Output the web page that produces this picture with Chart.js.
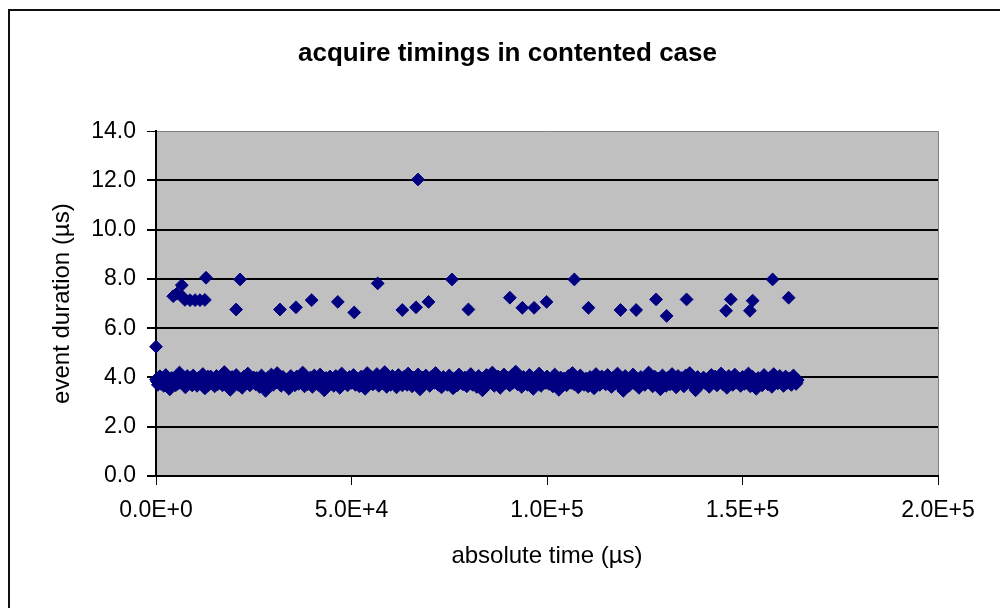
<!DOCTYPE html>
<html lang="en">
<head>
    <meta charset="UTF-8">
    <title>acquire timings in contented case</title>
    <script src="https://cdn.jsdelivr.net/npm/chart.js"></script>
    <style>
        body {
            margin: 0;
            background-color: #fff;
        }
        canvas {
            display: block;
            background-color: #fff;
        }
    </style>
</head>
<body>
    <canvas id="timingChart" width="1000" height="608"></canvas>
    <script>
        // main band of acquire events (absolute time in µs, duration in µs)
        const bandTimes = [
            0, 470, 980, 1510, 2000, 2490, 3010, 3520, 4000, 4480,
            5020, 5510, 6000, 6490, 7030, 7520, 7990, 8480, 9010, 9530,
            10010, 10490, 11020, 11500, 11980, 12510, 13030, 13500, 13990, 14520,
            15000, 15470, 15980, 16510, 17000, 17490, 18010, 18520, 19000, 19480,
            20020, 20510, 21000, 21490, 22030, 22520, 22990, 23480, 24010, 24530,
            25010, 25490, 26020, 26500, 26980, 27510, 28030, 28500, 28990, 29520,
            30000, 30470, 30980, 31510, 32000, 32490, 33010, 33520, 34000, 34480,
            35020, 35510, 36000, 36490, 37030, 37520, 37990, 38480, 39010, 39530,
            40010, 40490, 41020, 41500, 41980, 42510, 43030, 43500, 43990, 44520,
            45000, 45470, 45980, 46510, 47000, 47490, 48010, 48520, 49000, 49480,
            50020, 50510, 51000, 51490, 52030, 52520, 52990, 53480, 54010, 54530,
            55010, 55490, 56020, 56500, 56980, 57510, 58030, 58500, 58990, 59520,
            60000, 60470, 60980, 61510, 62000, 62490, 63010, 63520, 64000, 64480,
            65020, 65510, 66000, 66490, 67030, 67520, 67990, 68480, 69010, 69530,
            70010, 70490, 71020, 71500, 71980, 72510, 73030, 73500, 73990, 74520,
            75000, 75470, 75980, 76510, 77000, 77490, 78010, 78520, 79000, 79480,
            80020, 80510, 81000, 81490, 82030, 82520, 82990, 83480, 84010, 84530,
            85010, 85490, 86020, 86500, 86980, 87510, 88030, 88500, 88990, 89520,
            90000, 90470, 90980, 91510, 92000, 92490, 93010, 93520, 94000, 94480,
            95020, 95510, 96000, 96490, 97030, 97520, 97990, 98480, 99010, 99530,
            100010, 100490, 101020, 101500, 101980, 102510, 103030, 103500, 103990, 104520,
            105000, 105470, 105980, 106510, 107000, 107490, 108010, 108520, 109000, 109480,
            110020, 110510, 111000, 111490, 112030, 112520, 112990, 113480, 114010, 114530,
            115010, 115490, 116020, 116500, 116980, 117510, 118030, 118500, 118990, 119520,
            120000, 120470, 120980, 121510, 122000, 122490, 123010, 123520, 124000, 124480,
            125020, 125510, 126000, 126490, 127030, 127520, 127990, 128480, 129010, 129530,
            130010, 130490, 131020, 131500, 131980, 132510, 133030, 133500, 133990, 134520,
            135000, 135470, 135980, 136510, 137000, 137490, 138010, 138520, 139000, 139480,
            140020, 140510, 141000, 141490, 142030, 142520, 142990, 143480, 144010, 144530,
            145010, 145490, 146020, 146500, 146980, 147510, 148030, 148500, 148990, 149520,
            150000, 150470, 150980, 151510, 152000, 152490, 153010, 153520, 154000, 154480,
            155020, 155510, 156000, 156490, 157030, 157520, 157990, 158480, 159010, 159530,
            160010, 160490, 161020, 161500, 161980, 162510, 163030, 163500, 163700, 164100
        ];
        const bandDurations = [
            3.92, 3.70, 4.05, 3.80, 3.66, 4.10, 3.86, 3.52, 3.98, 3.74,
            3.68, 4.02, 4.20, 3.78, 3.90, 3.60, 4.06, 3.84, 3.72, 4.08,
            3.88, 3.66, 4.00, 3.76, 4.14, 3.56, 3.94, 3.70, 4.04, 3.82,
            3.64, 4.06, 3.78, 3.96, 3.68, 4.22, 3.74, 3.90, 3.50, 4.02,
            3.80, 4.10, 3.70, 3.92, 3.58, 4.04, 3.86, 4.16, 3.68, 3.96,
            4.00, 3.72, 3.88, 3.62, 4.08, 3.78, 3.46, 3.98, 3.84, 4.12,
            3.70, 3.94, 4.18, 3.80, 3.66, 4.02, 3.76, 3.92, 3.54, 4.06,
            3.86, 3.68, 4.04, 3.74, 3.96, 4.20, 3.64, 3.88, 3.78, 4.00,
            3.62, 4.08, 3.82, 3.70, 4.12, 3.90, 3.48, 3.98, 3.74, 4.04,
            3.94, 3.66, 4.06, 3.84, 3.58, 4.16, 3.76, 3.92, 3.68, 4.02,
            3.78, 4.10, 3.70, 3.96, 3.64, 4.04, 3.86, 3.54, 4.18, 3.80,
            4.02, 3.72, 3.90, 4.14, 3.66, 3.98, 3.76, 4.22, 3.62, 3.88,
            3.70, 4.06, 3.82, 3.60, 4.10, 3.94, 3.68, 4.04, 3.78, 4.16,
            3.90, 3.64, 4.00, 3.76, 4.12, 3.52, 3.96, 3.72, 4.08, 3.84,
            3.66, 4.04, 3.88, 4.18, 3.74, 3.94, 3.60, 4.02, 3.80, 3.70,
            4.08, 3.78, 3.56, 3.98, 3.68, 4.12, 3.86, 3.72, 4.00, 3.64,
            3.84, 4.14, 3.70, 3.92, 3.62, 4.06, 3.80, 3.48, 3.96, 4.10,
            3.74, 3.96, 4.20, 3.66, 3.88, 4.04, 3.58, 3.92, 4.12, 3.78,
            3.98, 3.68, 4.08, 3.82, 4.24, 3.72, 3.94, 3.62, 4.02, 3.86,
            3.70, 4.10, 3.78, 3.54, 4.00, 3.90, 4.16, 3.66, 3.96, 3.80,
            4.04, 3.74, 3.92, 3.64, 4.12, 3.84, 3.50, 4.00, 3.76, 3.94,
            3.68, 4.06, 3.86, 4.18, 3.72, 3.98, 3.60, 4.08, 3.82, 3.70,
            3.96, 3.64, 4.02, 3.78, 3.56, 4.14, 3.88, 3.70, 4.04, 3.84,
            3.72, 4.10, 3.90, 3.62, 4.00, 3.76, 4.16, 3.68, 3.94, 3.46,
            4.06, 3.80, 3.66, 3.98, 4.12, 3.74, 3.92, 3.58, 4.02, 3.86,
            3.70, 3.94, 4.20, 3.82, 3.64, 4.04, 3.76, 3.96, 3.52, 4.08,
            3.88, 3.66, 4.00, 3.72, 4.14, 3.90, 3.60, 4.06, 3.78, 3.98,
            3.64, 4.08, 3.84, 4.18, 3.70, 3.96, 3.48, 4.02, 3.86, 3.74,
            4.00, 3.76, 3.92, 3.62, 4.10, 3.82, 4.04, 3.68, 3.94, 4.16,
            3.72, 3.98, 3.58, 4.06, 3.86, 3.70, 4.12, 3.80, 3.96, 3.66,
            4.02, 3.74, 3.90, 4.16, 3.64, 4.04, 3.84, 3.54, 3.98, 3.78,
            3.68, 4.10, 3.86, 3.72, 4.00, 3.62, 4.14, 3.92, 3.76, 4.06,
            3.84, 3.66, 4.04, 3.78, 3.96, 3.70, 4.08, 3.82, 3.74, 3.90
        ];

        // the events in between, same band
        const bandTimesB = [
            240, 730, 1250, 1760, 2250, 2740, 3260, 3760, 4240, 4750,
            5260, 5750, 6230, 6740, 7270, 7760, 8240, 8740, 9260, 9730,
            10240, 10730, 11250, 11760, 12250, 12740, 13260, 13760, 14240, 14750,
            15260, 15750, 16230, 16740, 17270, 17760, 18240, 18740, 19260, 19730,
            20240, 20730, 21250, 21760, 22250, 22740, 23260, 23760, 24240, 24750,
            25260, 25750, 26230, 26740, 27270, 27760, 28240, 28740, 29260, 29730,
            30240, 30730, 31250, 31760, 32250, 32740, 33260, 33760, 34240, 34750,
            35260, 35750, 36230, 36740, 37270, 37760, 38240, 38740, 39260, 39730,
            40240, 40730, 41250, 41760, 42250, 42740, 43260, 43760, 44240, 44750,
            45260, 45750, 46230, 46740, 47270, 47760, 48240, 48740, 49260, 49730,
            50240, 50730, 51250, 51760, 52250, 52740, 53260, 53760, 54240, 54750,
            55260, 55750, 56230, 56740, 57270, 57760, 58240, 58740, 59260, 59730,
            60240, 60730, 61250, 61760, 62250, 62740, 63260, 63760, 64240, 64750,
            65260, 65750, 66230, 66740, 67270, 67760, 68240, 68740, 69260, 69730,
            70240, 70730, 71250, 71760, 72250, 72740, 73260, 73760, 74240, 74750,
            75260, 75750, 76230, 76740, 77270, 77760, 78240, 78740, 79260, 79730,
            80240, 80730, 81250, 81760, 82250, 82740, 83260, 83760, 84240, 84750,
            85260, 85750, 86230, 86740, 87270, 87760, 88240, 88740, 89260, 89730,
            90240, 90730, 91250, 91760, 92250, 92740, 93260, 93760, 94240, 94750,
            95260, 95750, 96230, 96740, 97270, 97760, 98240, 98740, 99260, 99730,
            100240, 100730, 101250, 101760, 102250, 102740, 103260, 103760, 104240, 104750,
            105260, 105750, 106230, 106740, 107270, 107760, 108240, 108740, 109260, 109730,
            110240, 110730, 111250, 111760, 112250, 112740, 113260, 113760, 114240, 114750,
            115260, 115750, 116230, 116740, 117270, 117760, 118240, 118740, 119260, 119730,
            120240, 120730, 121250, 121760, 122250, 122740, 123260, 123760, 124240, 124750,
            125260, 125750, 126230, 126740, 127270, 127760, 128240, 128740, 129260, 129730,
            130240, 130730, 131250, 131760, 132250, 132740, 133260, 133760, 134240, 134750,
            135260, 135750, 136230, 136740, 137270, 137760, 138240, 138740, 139260, 139730,
            140240, 140730, 141250, 141760, 142250, 142740, 143260, 143760, 144240, 144750,
            145260, 145750, 146230, 146740, 147270, 147760, 148240, 148740, 149260, 149730,
            150240, 150730, 151250, 151760, 152250, 152740, 153260, 153760, 154240, 154750,
            155260, 155750, 156230, 156740, 157270, 157760, 158240, 158740, 159260, 159730,
            160240, 160730, 161250, 161760, 162250, 162740, 163260, 163600, 163850, 164000
        ];
        const bandDurationsB = [
            3.84, 3.96, 3.74, 3.90, 3.80, 4.00, 3.70, 3.88, 3.94, 3.78,
            3.92, 3.76, 3.86, 4.02, 3.72, 3.90, 3.82, 3.98, 3.68, 3.86,
            3.78, 3.94, 3.84, 3.70, 3.92, 3.80, 4.04, 3.76, 3.88, 3.96,
            3.90, 3.72, 3.98, 3.82, 3.86, 3.74, 3.94, 3.80, 4.00, 3.70,
            3.76, 3.88, 3.96, 3.70, 3.84, 3.92, 3.78, 4.02, 3.82, 3.90,
            3.86, 3.98, 3.74, 3.90, 3.80, 3.94, 3.72, 3.84, 3.96, 3.78,
            3.92, 3.80, 3.86, 3.74, 4.00, 3.82, 3.90, 3.70, 3.88, 3.96,
            3.74, 3.90, 3.82, 3.96, 3.78, 3.88, 4.02, 3.72, 3.94, 3.84,
            3.88, 3.76, 3.94, 3.84, 3.70, 3.98, 3.80, 3.90, 3.86, 3.74,
            3.80, 3.96, 3.72, 3.88, 3.92, 3.78, 4.00, 3.84, 3.76, 3.90,
            3.94, 3.82, 3.88, 3.74, 3.98, 3.86, 3.70, 3.92, 3.80, 3.96,
            3.76, 3.90, 3.84, 3.98, 3.72, 3.88, 3.94, 3.78, 4.04, 3.82,
            3.90, 3.78, 3.96, 3.84, 3.76, 3.92, 3.82, 3.88, 3.70, 3.98,
            3.82, 3.94, 3.74, 3.90, 3.86, 3.80, 4.00, 3.76, 3.92, 3.88,
            3.96, 3.84, 3.78, 3.92, 3.70, 3.88, 3.82, 3.94, 3.86, 3.76,
            3.86, 3.72, 3.94, 3.80, 3.90, 3.78, 3.98, 3.84, 3.74, 3.92,
            3.78, 3.90, 3.84, 3.96, 3.76, 3.88, 3.92, 3.80, 4.02, 3.86,
            3.92, 3.80, 3.76, 3.88, 3.94, 3.82, 3.98, 3.74, 3.86, 3.90,
            3.84, 3.96, 3.78, 3.90, 3.80, 3.94, 3.72, 3.88, 3.82, 3.98,
            3.90, 3.76, 3.94, 3.84, 3.88, 3.74, 3.92, 3.82, 3.86, 3.78,
            3.80, 3.92, 3.86, 3.72, 3.96, 3.84, 3.90, 3.78, 3.94, 3.88,
            3.94, 3.82, 3.78, 3.90, 3.86, 3.80, 3.96, 3.74, 3.88, 3.92,
            3.82, 3.88, 3.94, 3.76, 3.90, 3.84, 3.78, 3.96, 3.80, 3.92,
            3.88, 3.74, 3.84, 3.96, 3.80, 3.92, 3.86, 3.90, 3.76, 4.00,
            3.76, 3.92, 3.88, 3.80, 3.84, 3.96, 3.82, 3.90, 3.74, 3.94,
            3.90, 3.84, 3.78, 3.92, 3.86, 3.80, 3.94, 3.82, 3.96, 3.76,
            3.80, 3.96, 3.84, 3.88, 3.76, 3.92, 3.86, 3.78, 3.90, 3.84,
            3.92, 3.78, 3.96, 3.82, 3.88, 3.80, 3.94, 3.86, 3.76, 3.90,
            3.84, 3.90, 3.80, 3.94, 3.78, 3.88, 3.82, 3.96, 3.86, 3.80,
            3.88, 3.82, 3.92, 3.76, 3.96, 3.84, 3.80, 3.90, 3.86, 3.94,
            3.78, 3.94, 3.86, 3.82, 3.90, 3.76, 3.92, 3.88, 3.84, 3.96,
            3.90, 3.80, 3.84, 3.94, 3.78, 3.92, 3.86, 3.82, 3.96, 3.88,
            3.84, 3.92, 3.80, 3.88, 3.94, 3.82, 3.90, 3.86, 3.80, 3.88
        ];

        // slow acquires above the band
        const outlierTimes = [
            0, 4400, 5300, 6600, 6800, 7400, 8700, 10000, 11250, 12500,
            12800, 20500, 21500, 31700, 35800, 39800, 46500, 50700, 56700, 63000,
            66500, 67000, 69700, 75700, 79900, 90500, 93700, 96700, 99900, 107000,
            110600, 118800, 122800, 127900, 130600, 135700, 145800, 147000, 151900, 152600,
            157700, 161800
        ];
        const outlierDurations = [
            5.25, 7.30, 7.40, 7.75, 7.28, 7.15, 7.14, 7.14, 7.14, 7.15,
            8.05, 6.76, 7.98, 6.76, 6.85, 7.14, 7.07, 6.64, 7.82, 6.74,
            6.85, 12.04, 7.07, 7.98, 6.76, 7.24, 6.83, 6.83, 7.07, 7.98,
            6.83, 6.74, 6.74, 7.17, 6.50, 7.17, 6.71, 7.17, 6.71, 7.12,
            7.98, 7.24
        ];

        const xTicks = [0, 50000, 100000, 150000, 200000];
        const yTicks = [0, 2, 4, 6, 8, 10, 12, 14];

        const FONT = "'Liberation Sans', Arial, sans-serif";

        function sciLabel(v) {
            if (v === 0) return '0.0E+0';
            const exp = Math.floor(Math.log10(v));
            return (v / Math.pow(10, exp)).toFixed(1) + 'E+' + exp;
        }

        const points = [];
        bandTimes.forEach((t, i) => points.push({ x: t, y: bandDurations[i] }));
        bandTimesB.forEach((t, i) => points.push({ x: t, y: bandDurationsB[i] }));
        outlierTimes.forEach((t, i) => points.push({ x: t, y: outlierDurations[i] }));

        // grey plot area and the outer chart frame
        const excelFrame = {
            id: 'excelFrame',
            beforeDraw(chart) {
                const { ctx, chartArea: a } = chart;
                ctx.save();
                ctx.fillStyle = '#c0c0c0';
                ctx.fillRect(a.left, a.top, a.right - a.left, a.bottom - a.top);
                ctx.restore();
            },
            afterDraw(chart) {
                const ctx = chart.ctx;
                ctx.save();
                ctx.strokeStyle = '#111';
                ctx.lineWidth = 2;
                ctx.beginPath();
                ctx.moveTo(9, 608);
                ctx.lineTo(9, 10);
                ctx.lineTo(1000, 10);
                ctx.stroke();
                ctx.restore();
            }
        };

        new Chart(document.getElementById('timingChart'), {
            type: 'scatter',
            data: {
                datasets: [{
                    label: 'acquire',
                    data: points,
                    pointStyle: 'rectRot',
                    pointRadius: 6.4,
                    pointBorderWidth: 1,
                    backgroundColor: '#000080',
                    borderColor: '#000080',
                    clip: false
                }]
            },
            options: {
                responsive: false,
                animation: false,
                layout: {
                    padding: { left: 15, right: 0, top: 10, bottom: 20 }
                },
                plugins: {
                    legend: { display: false },
                    tooltip: { enabled: false },
                    title: {
                        display: true,
                        text: 'acquire timings in contented case',
                        color: '#000',
                        font: { family: FONT, size: 26, weight: 'bold' },
                        padding: { top: 28, bottom: 62 }
                    }
                },
                scales: {
                    x: {
                        type: 'linear',
                        min: 0,
                        max: 200000,
                        afterBuildTicks: s => { s.ticks = xTicks.map(v => ({ value: v })); },
                        afterFit: s => { s.height = 112; },
                        ticks: {
                            color: '#000',
                            padding: 12,
                            maxRotation: 0,
                            font: { family: FONT, size: 23 },
                            callback: v => sciLabel(v)
                        },
                        grid: {
                            color: c => (c.tick && c.tick.value === 200000) ? '#808080' : 'rgba(0,0,0,0)',
                            tickColor: '#000',
                            tickLength: 9,
                            lineWidth: 1
                        },
                        border: { display: true, color: '#000', width: 2 },
                        title: {
                            display: true,
                            text: 'absolute time (µs)',
                            color: '#000',
                            font: { family: FONT, size: 24 },
                            padding: { top: 0, bottom: 17 }
                        }
                    },
                    y: {
                        type: 'linear',
                        position: 'left',
                        min: 0,
                        max: 14,
                        afterBuildTicks: s => { s.ticks = yTicks.map(v => ({ value: v })); },
                        afterFit: s => { s.width = 141; },
                        ticks: {
                            color: '#000',
                            padding: 11,
                            font: { family: FONT, size: 23 },
                            callback: v => v.toFixed(1)
                        },
                        grid: {
                            color: c => (c.tick && c.tick.value === 14) ? '#808080' : '#000',
                            lineWidth: c => (c.tick && c.tick.value === 14) ? 1 : 2,
                            tickColor: '#000',
                            tickLength: 9
                        },
                        border: { display: true, color: '#000', width: 2 },
                        title: {
                            display: true,
                            text: 'event duration (µs)',
                            color: '#000',
                            font: { family: FONT, size: 24 },
                            padding: { top: 33, bottom: 0 }
                        }
                    },
                    yRight: {
                        type: 'linear',
                        position: 'right',
                        afterFit: s => { s.width = 62; },
                        ticks: { display: false },
                        grid: { display: false },
                        border: { display: false }
                    }
                }
            },
            plugins: [excelFrame]
        });
    </script>
</body>
</html>
